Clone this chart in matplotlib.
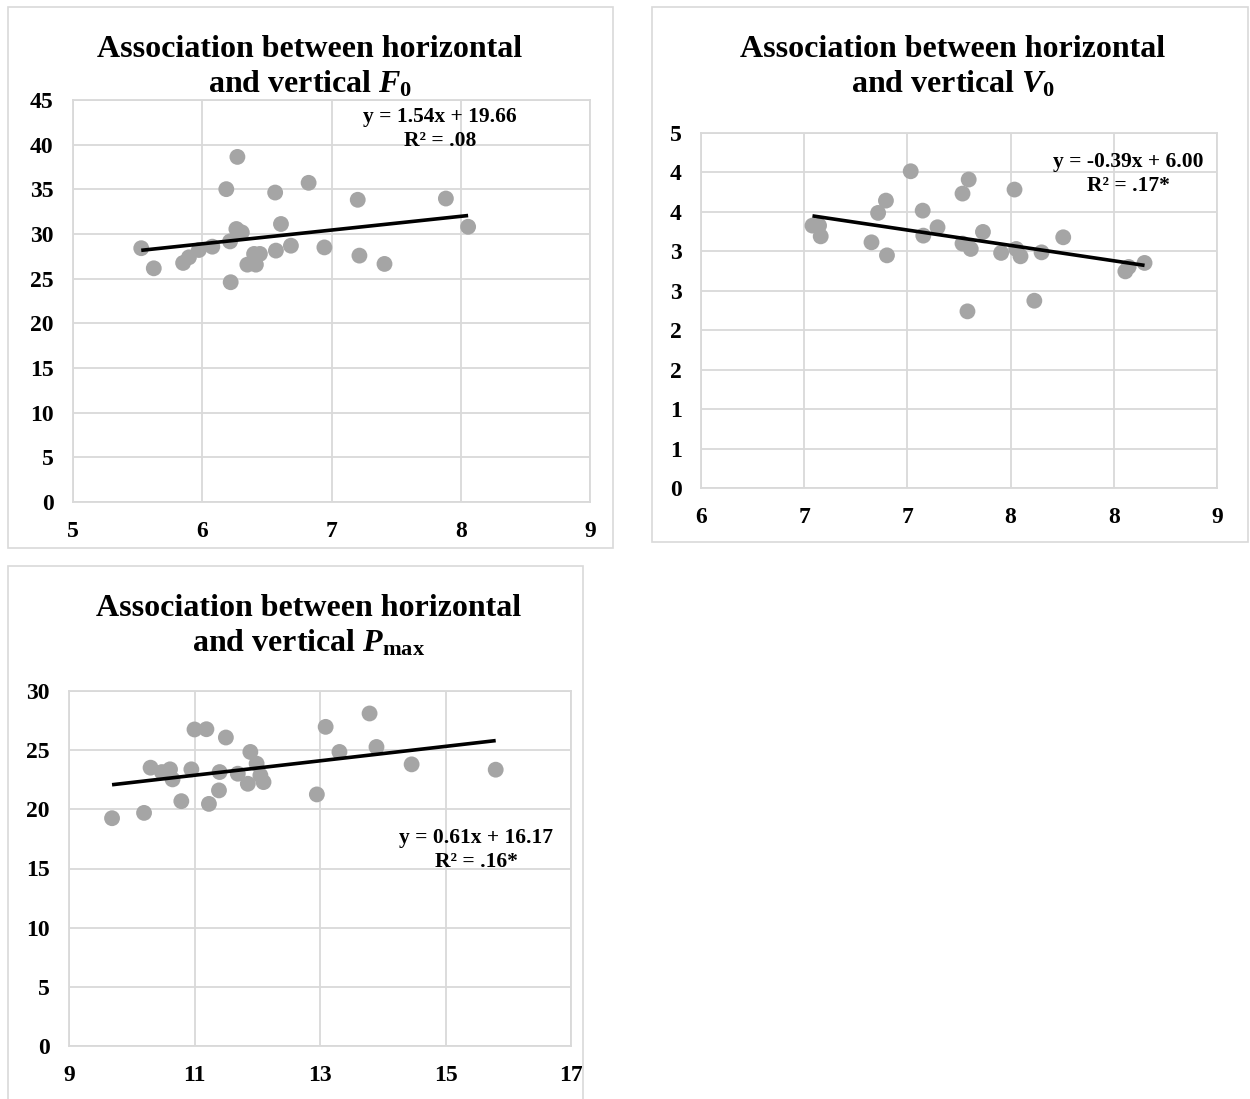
import matplotlib
matplotlib.use("Agg")
import matplotlib.pyplot as plt
import numpy as np
from matplotlib.patches import Rectangle

plt.rcParams['font.family'] = ['Liberation Serif', 'DejaVu Serif']
plt.rcParams['font.weight'] = 'bold'
plt.rcParams['mathtext.fontset'] = 'custom'
plt.rcParams['mathtext.rm'] = 'Liberation Serif:bold'
plt.rcParams['mathtext.it'] = 'Liberation Serif:bold:italic'
plt.rcParams['mathtext.bf'] = 'Liberation Serif:bold'

# ---------------- data ----------------
f0_horizontal = [5.528, 5.625, 5.852, 5.897, 5.974, 6.078, 6.186, 6.215, 6.220, 6.272,
                 6.264, 6.306, 6.349, 6.401, 6.415, 6.446, 6.564, 6.570, 6.609, 6.686,
                 6.823, 6.945, 7.203, 7.216, 7.410, 7.885, 8.057]
f0_vertical = [28.41, 26.16, 26.76, 27.39, 28.21, 28.58, 35.02, 29.17, 24.60, 38.63,
               30.56, 30.18, 26.57, 27.77, 26.57, 27.77, 34.64, 28.14, 31.12, 28.69,
               35.73, 28.50, 33.83, 27.58, 26.65, 33.97, 30.81]
f0_slope, f0_intercept = 1.54, 19.66
f0_xticks = [5, 6, 7, 8, 9]
f0_xticklabels = ["5", "6", "7", "8", "9"]
f0_yticks = [0, 5, 10, 15, 20, 25, 30, 35, 40, 45]
f0_yticklabels = ["0", "5", "10", "15", "20", "25", "30", "35", "40", "45"]

v0_horizontal = [6.540, 6.572, 6.580, 6.826, 6.858, 6.896, 6.901, 7.016, 7.074, 7.077,
                 7.146, 7.267, 7.267, 7.297, 7.291, 7.307, 7.366, 7.454, 7.519, 7.527,
                 7.548, 7.615, 7.650, 7.755, 8.056, 8.072, 8.149]
v0_vertical = [3.326, 3.326, 3.190, 3.114, 3.487, 3.643, 2.949, 4.015, 3.516, 3.199,
               3.305, 3.732, 3.098, 3.910, 2.239, 3.030, 3.246, 2.980, 3.783, 3.030,
               2.937, 2.374, 2.987, 3.178, 2.746, 2.802, 2.853]
v0_slope, v0_intercept = -0.39, 6.00
v0_xticks = [6.0, 6.5, 7.0, 7.5, 8.0, 8.5]
v0_xticklabels = ["6", "7", "7", "8", "8", "9"]
v0_yticks = [0.0, 0.5, 1.0, 1.5, 2.0, 2.5, 3.0, 3.5, 4.0, 4.5]
v0_yticklabels = ["0", "1", "1", "2", "2", "3", "3", "4", "4", "5"]

pmax_horizontal = [9.686, 10.196, 10.30, 10.48, 10.61, 10.65, 10.79, 10.95, 11.00, 11.19,
                   11.23, 11.39, 11.40, 11.50, 11.69, 11.85, 11.89, 11.99, 12.05, 12.10,
                   12.95, 13.09, 13.31, 13.79, 13.90, 14.46, 15.80]
pmax_vertical = [19.25, 19.70, 23.52, 23.15, 23.38, 22.53, 20.69, 23.38, 26.75, 26.77,
                 20.46, 21.60, 23.15, 26.07, 23.01, 22.16, 24.85, 23.86, 22.87, 22.30,
                 21.26, 26.97, 24.85, 28.10, 25.27, 23.80, 23.35]
pmax_slope, pmax_intercept = 0.61, 16.17
pmax_xticks = [9, 11, 13, 15, 17]
pmax_xticklabels = ["9", "11", "13", "15", "17"]
pmax_yticks = [0, 5, 10, 15, 20, 25, 30]
pmax_yticklabels = ["0", "5", "10", "15", "20", "25", "30"]

titles = ["Association between horizontal\nand vertical $\\mathit{F}_{\\mathrm{0}}$",
          "Association between horizontal\nand vertical $\\mathit{V}_{\\mathrm{0}}$",
          "Association between horizontal\nand vertical $\\mathit{P}_{\\mathrm{max}}$"]
equations = ["y = 1.54x + 19.66\nR² = .08",
             "y = -0.39x + 6.00\nR² = .17*",
             "y = 0.61x + 16.17\nR² = .16*"]

# ---------------- figure ----------------
W, H = 1250, 1099
fig = plt.figure(figsize=(W / 100, H / 100), dpi=100)
fig.patch.set_facecolor('white')

def fx(px):
    return px / W

def fy(py):
    return 1 - py / H

grid_c = '#D9D9D9'
dot_c = '#A5A5A5'

# panel borders
for (x0, y0, x1, y1) in [(8, 7, 613, 548), (652, 7, 1248, 542), (8, 566, 583, 1110)]:
    fig.patches.append(Rectangle((fx(x0), fy(y1)), fx(x1) - fx(x0), fy(y0) - fy(y1),
                                 transform=fig.transFigure, fill=False,
                                 edgecolor=grid_c, linewidth=1.2, zorder=0))

panels = [
    dict(rect=(73, 100, 590, 502), x=f0_horizontal, y=f0_vertical, m=f0_slope, b=f0_intercept,
         xt=f0_xticks, xtl=f0_xticklabels, yt=f0_yticks, ytl=f0_yticklabels,
         xlim=(5, 9), ylim=(0, 45), title=titles[0], tpos=(310, 67), eq=equations[0], epos=(440, 129)),
    dict(rect=(701, 133, 1217, 488), x=v0_horizontal, y=v0_vertical, m=v0_slope, b=v0_intercept,
         xt=v0_xticks, xtl=v0_xticklabels, yt=v0_yticks, ytl=v0_yticklabels,
         xlim=(6, 8.5), ylim=(0, 4.5), title=titles[1], tpos=(953, 67), eq=equations[1], epos=(1128, 174)),
    dict(rect=(69, 691, 571, 1046), x=pmax_horizontal, y=pmax_vertical, m=pmax_slope, b=pmax_intercept,
         xt=pmax_xticks, xtl=pmax_xticklabels, yt=pmax_yticks, ytl=pmax_yticklabels,
         xlim=(9, 17), ylim=(0, 30), title=titles[2], tpos=(309, 626), eq=equations[2], epos=(476, 850)),
]

for p in panels:
    l, t, r, btm = p['rect']
    ax = fig.add_axes([fx(l), fy(btm), fx(r) - fx(l), fy(t) - fy(btm)])
    ax.set_xlim(*p['xlim'])
    ax.set_ylim(*p['ylim'])
    ax.set_xticks(p['xt'])
    ax.set_xticklabels(p['xtl'])
    ax.set_yticks(p['yt'])
    ax.set_yticklabels(p['ytl'])
    ax.grid(True, color=grid_c, linewidth=1.3, zorder=0)
    ax.set_axisbelow(True)
    for s in ax.spines.values():
        s.set_color(grid_c)
        s.set_linewidth(1.3)
    ax.tick_params(axis='both', length=0, labelsize=17)
    ax.tick_params(axis='y', pad=14)
    ax.tick_params(axis='x', pad=14)
    xs = np.array(p['x'])
    ys = np.array(p['y'])
    ax.scatter(xs, ys, s=130, color=dot_c, edgecolors='none', zorder=3, clip_on=False)
    xl = np.array([xs.min(), xs.max()])
    ax.plot(xl, p['m'] * xl + p['b'], color='black', linewidth=2.6, zorder=4,
            solid_capstyle='butt')
    fig.text(fx(p['tpos'][0]), fy(p['tpos'][1]), p['title'], ha='center', va='center',
             ma='center', fontsize=23, fontweight='bold', linespacing=1.2)
    fig.text(fx(p['epos'][0]), fy(p['epos'][1]), p['eq'], ha='center', va='center',
             ma='center', fontsize=15.5, fontweight='bold', linespacing=1.25)

fig.savefig('out.png', dpi=100, facecolor='white')
